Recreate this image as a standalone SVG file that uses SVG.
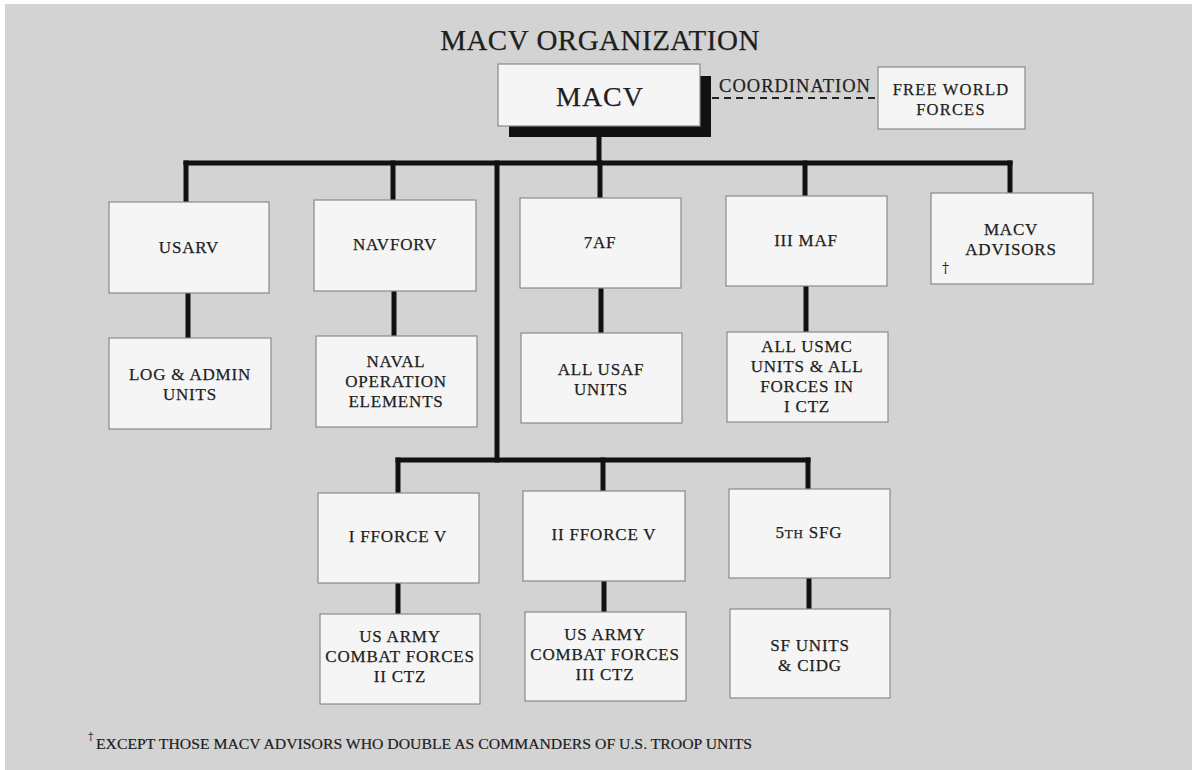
<svg xmlns="http://www.w3.org/2000/svg" width="1192" height="770" viewBox="0 0 1192 770">
<style>
.box{fill:#f5f5f5;stroke:#8a8a8a;stroke-width:1.2}
.t{font-family:"Liberation Serif","Times New Roman",serif;fill:#1e1e1e;stroke:#1e1e1e;stroke-width:0.25;text-anchor:middle;font-size:17px;letter-spacing:0.8px}
.dg{font-family:"DejaVu Serif","Liberation Serif",serif;fill:#1e1e1e}
.ln{stroke:#111;stroke-width:5;fill:none;stroke-linecap:square}
</style>
<rect x="0" y="0" width="1192" height="770" fill="#ffffff"/>
<rect x="5" y="4" width="1187" height="766" fill="#d3d3d3"/>
<text class="t" x="600" y="50" style="font-size:29px;letter-spacing:0.5px">MACV ORGANIZATION</text>

<g id="connectors">
<line class="ln" x1="599" y1="137" x2="599" y2="163"/>
<line class="ln" x1="186" y1="163" x2="1010" y2="163"/>
<line class="ln" x1="186" y1="163" x2="186" y2="202"/>
<line class="ln" x1="393" y1="163" x2="393" y2="200"/>
<line class="ln" x1="600" y1="163" x2="600" y2="198"/>
<line class="ln" x1="805" y1="163" x2="805" y2="196"/>
<line class="ln" x1="1010" y1="163" x2="1010" y2="193"/>
<line class="ln" x1="188" y1="293" x2="188" y2="338"/>
<line class="ln" x1="394" y1="291" x2="394" y2="336"/>
<line class="ln" x1="601" y1="288" x2="601" y2="333"/>
<line class="ln" x1="806" y1="286" x2="806" y2="332"/>
<line class="ln" x1="497" y1="163" x2="497" y2="460"/>
<line class="ln" x1="398" y1="460" x2="808" y2="460"/>
<line class="ln" x1="398" y1="460" x2="398" y2="493"/>
<line class="ln" x1="603" y1="460" x2="603" y2="491"/>
<line class="ln" x1="808" y1="460" x2="808" y2="489"/>
<line class="ln" x1="398" y1="583" x2="398" y2="614"/>
<line class="ln" x1="604" y1="581" x2="604" y2="612"/>
<line class="ln" x1="809" y1="578" x2="809" y2="609"/>
<line x1="712" y1="98" x2="878" y2="98" stroke="#222" stroke-width="2" stroke-dasharray="7,5"/>
<text class="t" x="795" y="92" style="font-size:18.5px;letter-spacing:1px">COORDINATION</text>
</g>

<g id="macv">
<rect x="509" y="76" width="202" height="61" fill="#111"/>
<rect class="box" x="498" y="64" width="202" height="62"/>
<text class="t" x="600" y="106" style="font-size:28px;letter-spacing:1px">MACV</text>
</g>
<g id="fwf">
<rect class="box" x="878" y="67" width="147" height="62"/>
<text class="t" x="951" y="95" style="font-size:16.5px;letter-spacing:1.2px">FREE WORLD</text>
<text class="t" x="951" y="115" style="font-size:16.5px;letter-spacing:1.2px">FORCES</text>
</g>

<g id="usarv">
<rect class="box" x="109" y="202" width="160" height="91"/>
<text class="t" x="189" y="253">USARV</text>
</g>
<g id="navforv">
<rect class="box" x="314" y="200" width="162" height="91"/>
<text class="t" x="395" y="250">NAVFORV</text>
</g>
<g id="af7">
<rect class="box" x="520" y="198" width="161" height="90"/>
<text class="t" x="600" y="248">7AF</text>
</g>
<g id="iiimaf">
<rect class="box" x="726" y="196" width="161" height="90"/>
<text class="t" x="806" y="246">III MAF</text>
</g>
<g id="advisors">
<rect class="box" x="931" y="193" width="162" height="91"/>
<text class="t" x="1011" y="235">MACV</text>
<text class="t" x="1011" y="255">ADVISORS</text>
<text class="dg" x="942" y="273" style="font-size:14px">†</text>
</g>

<g id="log">
<rect class="box" x="109" y="338" width="162" height="91"/>
<text class="t" x="190" y="380">LOG &amp; ADMIN</text>
<text class="t" x="190" y="400">UNITS</text>
</g>
<g id="naval">
<rect class="box" x="316" y="336" width="161" height="91"/>
<text class="t" x="396" y="367">NAVAL</text>
<text class="t" x="396" y="387">OPERATION</text>
<text class="t" x="396" y="407">ELEMENTS</text>
</g>
<g id="usaf">
<rect class="box" x="521" y="333" width="161" height="90"/>
<text class="t" x="601" y="375">ALL USAF</text>
<text class="t" x="601" y="395">UNITS</text>
</g>
<g id="usmc">
<rect class="box" x="727" y="332" width="161" height="90"/>
<text class="t" x="807" y="352">ALL USMC</text>
<text class="t" x="807" y="372">UNITS &amp; ALL</text>
<text class="t" x="807" y="392">FORCES IN</text>
<text class="t" x="807" y="412">I CTZ</text>
</g>

<g id="iffv">
<rect class="box" x="318" y="493" width="161" height="90"/>
<text class="t" x="398" y="542">I FFORCE V</text>
</g>
<g id="iiffv">
<rect class="box" x="523" y="491" width="162" height="90"/>
<text class="t" x="604" y="540">II FFORCE V</text>
</g>
<g id="sfg">
<rect class="box" x="729" y="489" width="161" height="89"/>
<text class="t" x="809" y="538">5<tspan style="font-size:13px">TH</tspan> SFG</text>
</g>

<g id="ctz2">
<rect class="box" x="320" y="614" width="160" height="90"/>
<text class="t" x="400" y="642">US ARMY</text>
<text class="t" x="400" y="662">COMBAT FORCES</text>
<text class="t" x="400" y="682">II CTZ</text>
</g>
<g id="ctz3">
<rect class="box" x="525" y="612" width="161" height="89"/>
<text class="t" x="605" y="640">US ARMY</text>
<text class="t" x="605" y="660">COMBAT FORCES</text>
<text class="t" x="605" y="680">III CTZ</text>
</g>
<g id="sfunits">
<rect class="box" x="730" y="609" width="160" height="89"/>
<text class="t" x="810" y="651">SF UNITS</text>
<text class="t" x="810" y="671">&amp; CIDG</text>
</g>

<text class="dg" x="88" y="740" style="font-size:11px">†</text>
<text x="96" y="749" textLength="656" lengthAdjust="spacingAndGlyphs" style="font-family:'Liberation Serif','Times New Roman',serif;font-size:14px;fill:#1e1e1e;stroke:#1e1e1e;stroke-width:0.2">EXCEPT THOSE MACV ADVISORS WHO DOUBLE AS COMMANDERS OF U.S. TROOP UNITS</text>
</svg>
